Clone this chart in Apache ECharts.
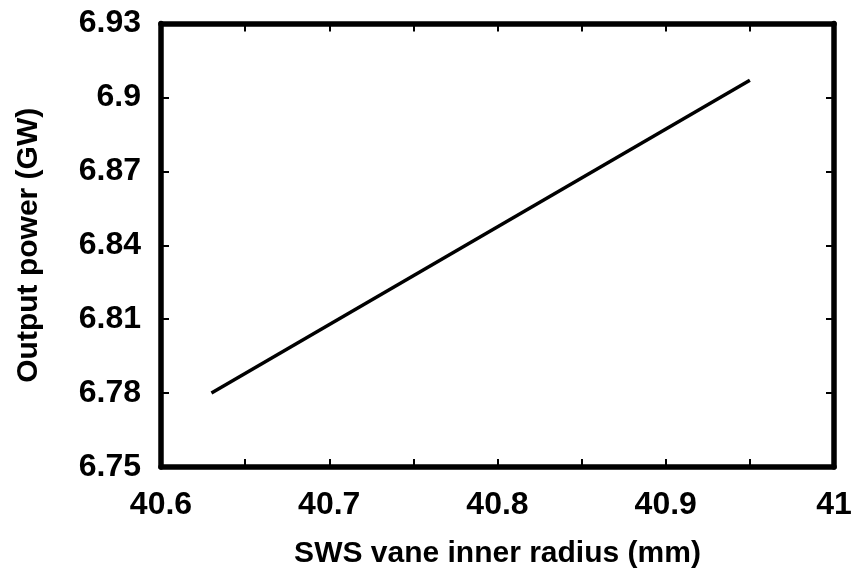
<!DOCTYPE html>
<html>
<head>
<meta charset="utf-8">
<script src="https://cdn.jsdelivr.net/npm/echarts@6/dist/echarts.min.js"></script>
<style>
  html, body { margin: 0; padding: 0; background: #ffffff; }
  #chart { width: 856px; height: 574px; }
</style>
</head>
<body>
<div id="chart"></div>
<script>
// Output power versus SWS vane inner radius
const radius = [40.63, 40.95];          // mm
const power = [6.78, 6.907];            // GW
const xTickLabels = ['40.6', '40.7', '40.8', '40.9', '41'];
const yTickLabels = ['6.75', '6.78', '6.81', '6.84', '6.87', '6.9', '6.93'];

const FONT = '"Liberation Sans", Arial, sans-serif';
const frameLine = { show: true, lineStyle: { color: '#000', width: 5.5 } };
const innerTick = { show: true, inside: true, length: 8, lineStyle: { color: '#000', width: 2 } };

function xLabel(v) {
  const k = Math.round((v - 40.6) * 10 * 1000) / 1000;
  return Number.isInteger(k) ? xTickLabels[k] : '';
}
function yLabel(v) {
  const k = Math.round((v - 6.75) / 0.03);
  return yTickLabels[k] || '';
}

const chart = echarts.init(document.getElementById('chart'), null, { renderer: 'canvas' });
chart.setOption({
  backgroundColor: '#ffffff',
  animation: false,
  grid: { left: 161, right: 22, top: 23.5, bottom: 106, containLabel: false },
  xAxis: [
    {
      type: 'value', min: 40.6, max: 41, interval: 0.05, position: 'bottom',
      axisLine: frameLine, axisTick: innerTick, splitLine: { show: false },
      axisLabel: { formatter: xLabel, color: '#000', fontFamily: FONT, fontWeight: 'bold', fontSize: 32, margin: 22 },
      name: 'SWS vane inner radius (mm)', nameLocation: 'middle', nameGap: 72,
      nameTextStyle: { color: '#000', fontFamily: FONT, fontWeight: 'bold', fontSize: 30 }
    },
    {
      type: 'value', min: 40.6, max: 41, interval: 0.05, position: 'top',
      axisLine: frameLine, axisTick: innerTick, splitLine: { show: false },
      axisLabel: { show: false }
    }
  ],
  yAxis: [
    {
      type: 'value', min: 6.75, max: 6.93, interval: 0.03, position: 'left',
      axisLine: frameLine, axisTick: innerTick, splitLine: { show: false },
      axisLabel: { formatter: yLabel, color: '#000', fontFamily: FONT, fontWeight: 'bold', fontSize: 32, margin: 20 },
      name: 'Output power (GW)', nameLocation: 'middle', nameGap: 117, nameRotate: 90,
      nameTextStyle: { color: '#000', fontFamily: FONT, fontWeight: 'bold', fontSize: 30 }
    },
    {
      type: 'value', min: 6.75, max: 6.93, interval: 0.03, position: 'right',
      axisLine: frameLine, axisTick: innerTick, splitLine: { show: false },
      axisLabel: { show: false }
    }
  ],
  series: [
    {
      type: 'line',
      data: radius.map((x, i) => [x, power[i]]),
      showSymbol: false,
      lineStyle: { color: '#000', width: 3.5 },
      xAxisIndex: 0, yAxisIndex: 0
    }
  ]
});
</script>
</body>
</html>
